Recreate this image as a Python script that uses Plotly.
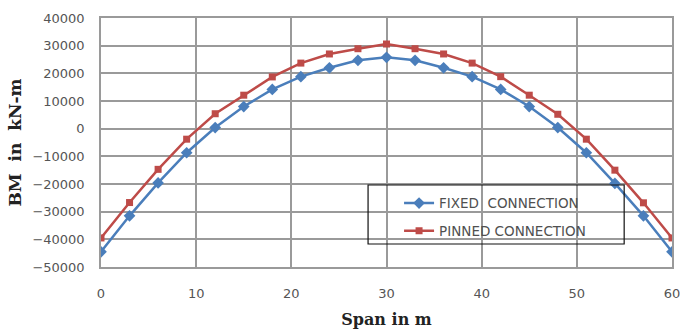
import plotly.graph_objects as go

span = [0, 3, 6, 9, 12, 15, 18, 21, 24, 27, 30, 33, 36, 39, 42, 45, 48, 51, 54, 57, 60]
fixed_bm = [-44500, -31500, -19600, -8700, 400, 8000, 14200, 18800, 22000, 24700, 25800,
            24700, 22000, 18800, 14200, 8000, 400, -8700, -19800, -31500, -44500]
pinned_bm = [-39500, -26700, -14700, -3800, 5400, 12100, 18700, 23700, 27000, 28900, 30600,
             28900, 27000, 23700, 18800, 12100, 5200, -3800, -15000, -26800, -39500]
series_names = ["FIXED  CONNECTION", "PINNED CONNECTION"]

fig = go.Figure()
fig.add_trace(go.Scatter(x=span, y=fixed_bm, name=series_names[0], mode="lines+markers",
                         legendgroup="a",
                         line=dict(color="#4a7ebb", width=2.5),
                         marker=dict(symbol="diamond", size=9, color="#4a7ebb")))
fig.add_trace(go.Scatter(x=span, y=pinned_bm, name=series_names[1], mode="lines+markers",
                         legendgroup="b",
                         line=dict(color="#be4b48", width=2.5),
                         marker=dict(symbol="square", size=7, color="#be4b48")))

grid = "#9a9a9a"
tickfont = dict(family="DejaVu Sans, sans-serif", size=13, color="#555555")
titlefont = dict(family="DejaVu Serif, serif", size=16, color="#222222")

fig.update_layout(
    width=680, height=332,
    margin=dict(l=101, r=6, t=18, b=65),
    paper_bgcolor="white", plot_bgcolor="white",
    showlegend=True,
    legend=dict(x=0.522, y=0.318, xanchor="left", yanchor="top",
                bgcolor="rgba(0,0,0,0)", borderwidth=0,
                font=dict(family="DejaVu Sans, sans-serif", size=13.5, color="#505050"),
                traceorder="grouped", tracegroupgap=7, itemwidth=30),
    xaxis=dict(range=[0, 60], dtick=10, showgrid=True, gridcolor=grid, gridwidth=1.5,
               showline=True, linecolor=grid, linewidth=1.5, mirror=True, zeroline=False,
               tickfont=tickfont, ticks="outside", ticklen=14, tickcolor="rgba(0,0,0,0)",
               ticklabeloverflow="allow", automargin=False,
               title=dict(text="<b>Span in m</b>", font=titlefont, standoff=13)),
    yaxis=dict(range=[-50000, 40000], dtick=10000, showgrid=True, gridcolor=grid, gridwidth=1.5,
               showline=True, linecolor=grid, linewidth=1.5, mirror=True, zeroline=False,
               tickformat="d",
               tickfont=tickfont, ticks="outside", ticklen=12, tickcolor="rgba(0,0,0,0)",
               title=dict(text="<b>BM&nbsp; in&nbsp; kN-m</b>",
                          font=dict(family="DejaVu Serif, serif", size=17, color="#222222"),
                          standoff=6)),
    shapes=[dict(type="rect", xref="paper", yref="paper",
                 x0=(369 - 101) / 573, x1=(626 - 101) / 573,
                 y0=(267 - 244) / 249, y1=(267 - 185) / 249,
                 line=dict(color="#111111", width=1.2), fillcolor="rgba(0,0,0,0)")],
)

fig.write_html("out.html")
